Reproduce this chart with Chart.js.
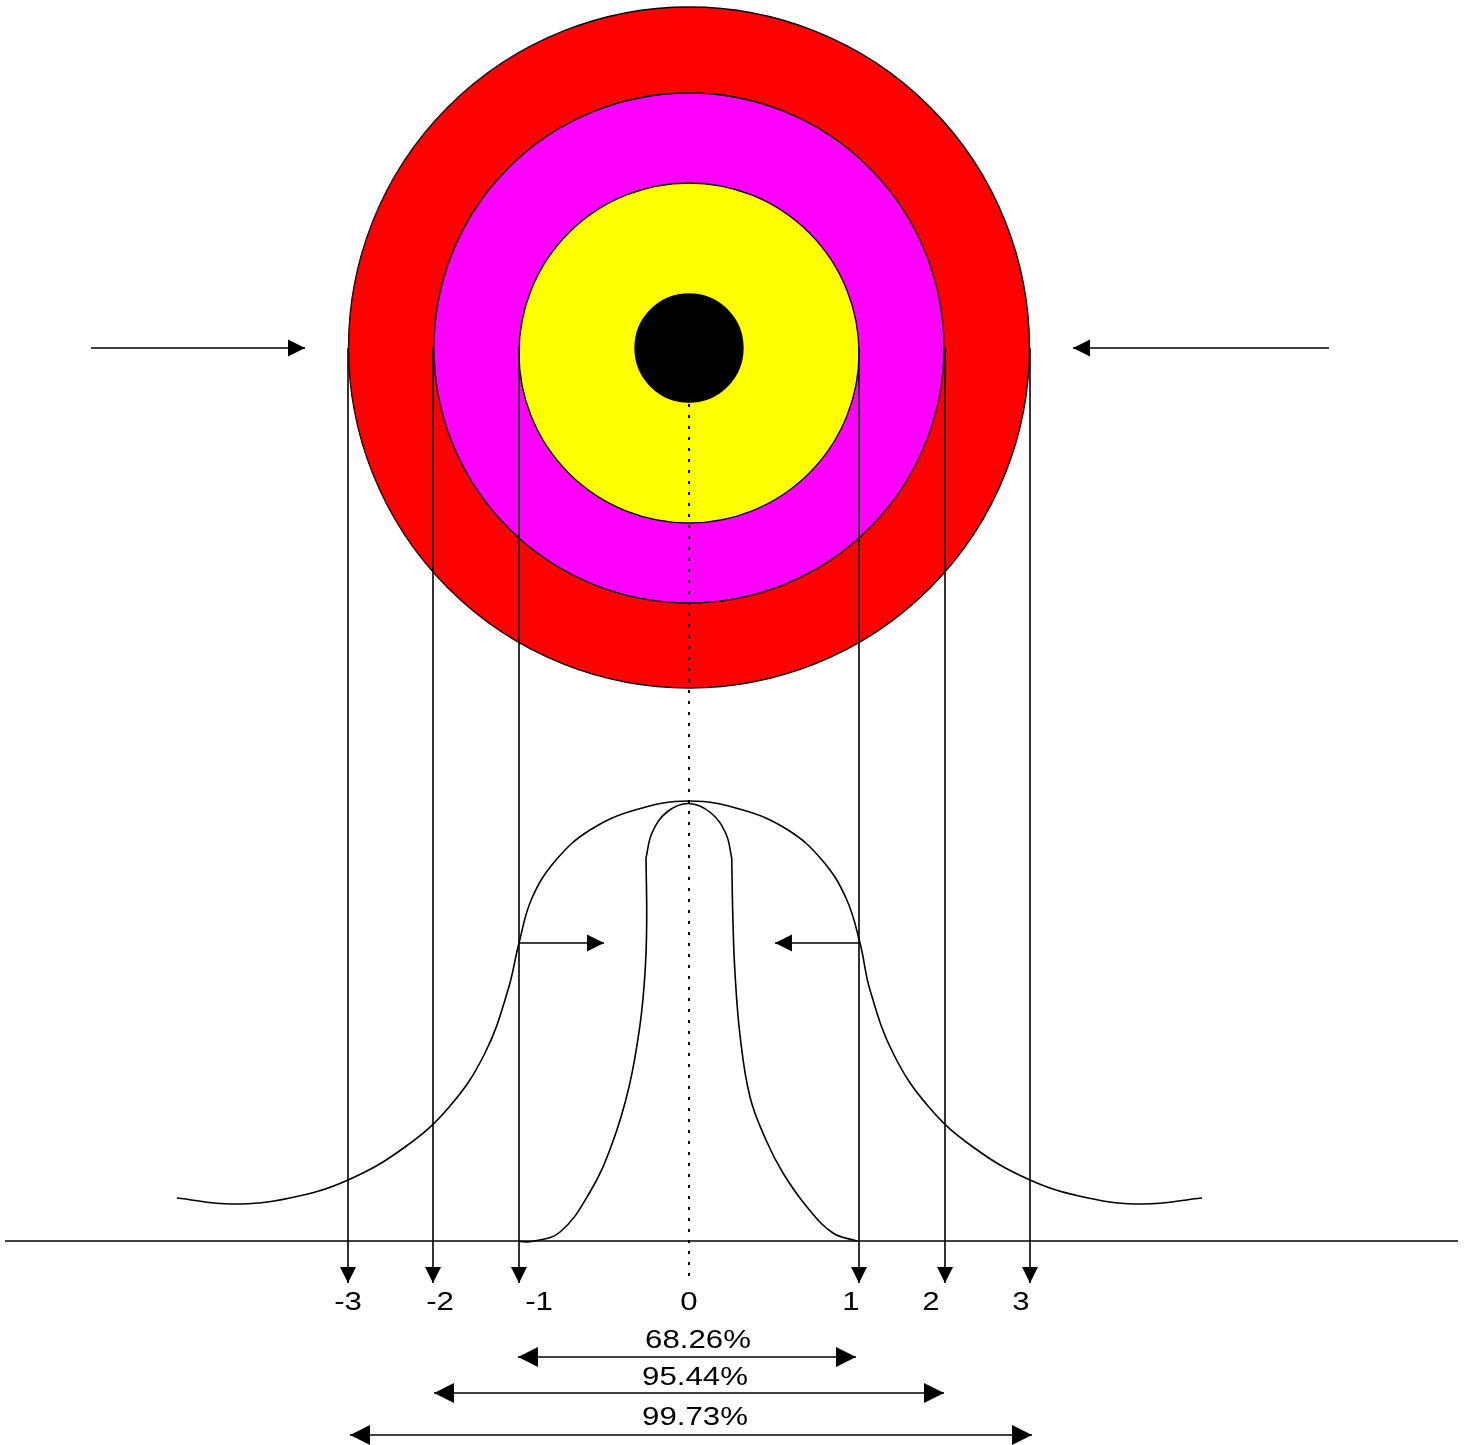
<!DOCTYPE html>
<html>
<head>
<meta charset="utf-8">
<script src="https://cdn.jsdelivr.net/npm/chart.js@4/dist/chart.umd.min.js"></script>
<style>
    html, body { margin: 0; padding: 0; background: #fff; }
    canvas { display: block; }
</style>
</head>
<body>
<canvas id="chartCanvas" width="1468" height="1445"></canvas>
<script>
// Diagram units: x from left, y from top (same size as the picture)

// Target rings, largest first
const ringRadius  = [340.5, 255, 170, 54];
const ringCenterX = [689, 689, 689, 689];
const ringCenterY = [347.5, 348, 353, 348];
const ringColors  = ['#ff0000', '#ff00ff', '#ffff00', '#000000'];

// Drop lines from ring edges down to the sigma scale
const dropLineX = [348, 433, 519, 859, 945, 1030];
const dropLineTop = 348;
const dropLineTip = 1283;

// Sigma labels
const sigmaLabels = ['-3', '-2', '-1', '0', '1', '2', '3'];
const sigmaLabelX = [348, 440, 539, 689, 851, 931, 1021];
const sigmaLabelY = 1303;

// Percentage ranges
const percentLabels = ['68.26%', '95.44%', '99.73%'];
const percentLabelX = [698, 695, 695];
const percentLabelY = [1341, 1378, 1418];
const rangeFromX = [518, 434, 350];
const rangeToX = [856, 944, 1032];
const rangeY = [1357, 1393, 1435];

// Side pointers (tail -> tip)
const pointerFromX = [91, 1329, 519, 859];
const pointerToX = [305, 1073, 604, 775];
const pointerY = [348, 348, 943, 943];

// Base line and centre line
const axisLineX = [5, 1458];
const axisLineY = 1241;
const centreLineX = 689;
const centreLineY = [404, 1281];

// Wide (flat) curve
const wideX = [177, 232, 290, 348, 405, 450, 485, 508, 519, 532, 556, 590, 635, 689,
               743, 788, 822, 846, 860, 870, 893, 928, 973, 1030, 1088, 1143, 1202];
const wideY = [1198, 1204, 1198, 1180, 1147, 1106, 1053, 990, 943, 898, 860, 830, 810, 801,
               810, 830, 860, 898, 943, 990, 1053, 1106, 1147, 1180, 1198, 1204, 1198];

// Narrow (peaked) curve: left flank, rounded cap, right flank
const narrowLeftX = [519, 532, 560, 590, 612, 629, 640, 645, 646.7, 646];
const narrowLeftY = [1241.5, 1241.5, 1232, 1192, 1144, 1087, 1025, 973, 923, 858];
const narrowCapX = [646, 652, 667, 689, 711, 726, 731.7];
const narrowCapY = [858, 833, 812, 803.5, 813, 834, 858];
const narrowRightX = [731.7, 733, 735, 740, 750, 766, 783, 807, 833, 857];
const narrowRightY = [858, 923, 973, 1035, 1097, 1140, 1173, 1207, 1233, 1241];

const ink = '#000000';
const fontFamily = '"Liberation Sans", Arial, sans-serif';

function toPoints(xs, ys) {
    return xs.map((x, i) => ({ x: x, y: ys[i] }));
}

function lineSet(points, extra) {
    return Object.assign({
        data: points,
        showLine: true,
        borderColor: ink,
        borderWidth: 1.6,
        pointRadius: 0,
        pointHoverRadius: 0,
        fill: false,
        tension: 0,
        clip: false,
        order: 1
    }, extra || {});
}

// Arrow heads at the ends of flagged line datasets
const arrowHeads = {
    id: 'arrowHeads',
    afterDatasetsDraw(chart) {
        const ctx = chart.ctx;
        chart.data.datasets.forEach((ds, i) => {
            if (!ds.heads) return;
            const pts = chart.getDatasetMeta(i).data;
            ds.heads.forEach(h => {
                const tip = h === 'end' ? pts[pts.length - 1] : pts[0];
                const back = h === 'end' ? pts[pts.length - 2] : pts[1];
                const ang = Math.atan2(tip.y - back.y, tip.x - back.x);
                ctx.save();
                ctx.translate(tip.x, tip.y);
                ctx.rotate(ang);
                ctx.beginPath();
                ctx.moveTo(0, 0);
                ctx.lineTo(-ds.headLength, -ds.headWidth / 2);
                ctx.lineTo(-ds.headLength, ds.headWidth / 2);
                ctx.closePath();
                ctx.fillStyle = ink;
                ctx.fill();
                ctx.restore();
            });
        });
    }
};

// Text labels placed through the scales
const textLabels = {
    id: 'textLabels',
    afterDraw(chart) {
        const ctx = chart.ctx;
        const sx = chart.scales.x, sy = chart.scales.y;
        function put(text, x, y) {
            ctx.save();
            ctx.translate(sx.getPixelForValue(x), sy.getPixelForValue(y));
            ctx.scale(1.2, 1);
            ctx.fillText(text, 0, 0);
            ctx.restore();
        }
        ctx.save();
        ctx.font = '26px ' + fontFamily;
        ctx.fillStyle = ink;
        ctx.textAlign = 'center';
        ctx.textBaseline = 'middle';
        sigmaLabels.forEach((t, i) => put(t, sigmaLabelX[i], sigmaLabelY));
        percentLabels.forEach((t, i) => put(t, percentLabelX[i], percentLabelY[i]));
        ctx.restore();
    }
};

const datasets = [];

// rings as big points, radius converted through the x scale
datasets.push({
    data: toPoints(ringCenterX, ringCenterY),
    showLine: false,
    pointStyle: 'circle',
    pointRadius: c => {
        const s = c.chart.scales.x;
        const i = c.dataIndex;
        return s.getPixelForValue(ringCenterX[i] + ringRadius[i]) - s.getPixelForValue(ringCenterX[i]);
    },
    pointHoverRadius: 0,
    pointBackgroundColor: ringColors,
    pointBorderColor: ink,
    pointBorderWidth: 1.3,
    clip: false,
    order: 2
});

datasets.push(lineSet(toPoints(axisLineX, [axisLineY, axisLineY])));
datasets.push(lineSet(toPoints([centreLineX, centreLineX], centreLineY), { borderDash: [3, 8], borderWidth: 2 }));

dropLineX.forEach(x => {
    datasets.push(lineSet(toPoints([x, x], [dropLineTop, dropLineTip]),
        { heads: ['end'], headLength: 16, headWidth: 16 }));
});

pointerFromX.forEach((x, i) => {
    datasets.push(lineSet(toPoints([x, pointerToX[i]], [pointerY[i], pointerY[i]]),
        { heads: ['end'], headLength: 17, headWidth: 17 }));
});

rangeFromX.forEach((x, i) => {
    datasets.push(lineSet(toPoints([x, rangeToX[i]], [rangeY[i], rangeY[i]]),
        { heads: ['start', 'end'], headLength: 20, headWidth: 20 }));
});

datasets.push(lineSet(toPoints(wideX, wideY), { tension: 0.4 }));
datasets.push(lineSet(toPoints(narrowLeftX, narrowLeftY), { tension: 0.4 }));
datasets.push(lineSet(toPoints(narrowCapX, narrowCapY), { tension: 0.4 }));
datasets.push(lineSet(toPoints(narrowRightX, narrowRightY), { tension: 0.4 }));

const ctx = document.getElementById('chartCanvas').getContext('2d');
new Chart(ctx, {
    type: 'scatter',
    data: { datasets: datasets },
    options: {
        responsive: false,
        animation: false,
        events: [],
        layout: { padding: 0 },
        plugins: {
            legend: { display: false },
            tooltip: { enabled: false },
            title: { display: false }
        },
        scales: {
            x: { type: 'linear', min: 0, max: 1468, display: false },
            y: { type: 'linear', min: 0, max: 1445, reverse: true, display: false }
        }
    },
    plugins: [arrowHeads, textLabels]
});
</script>
</body>
</html>
